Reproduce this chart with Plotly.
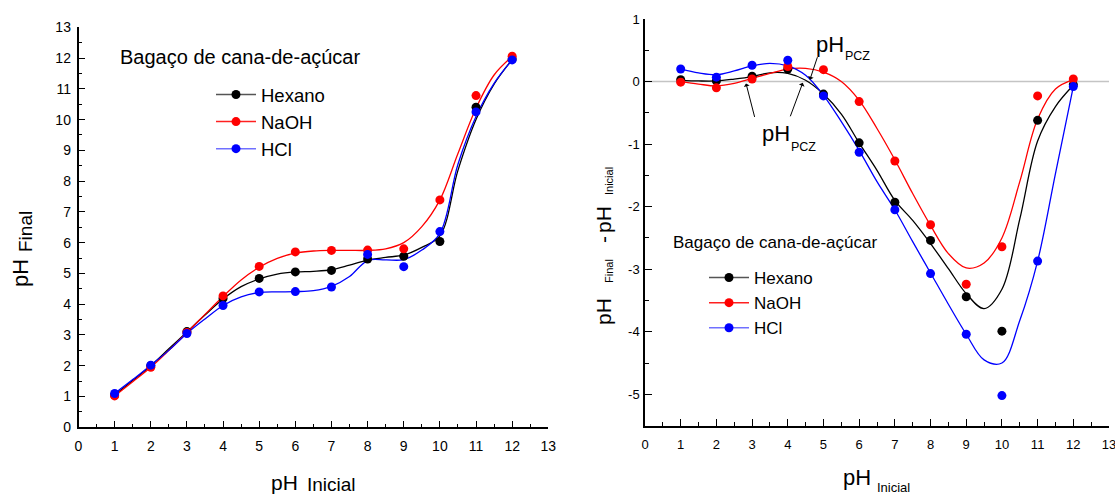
import plotly.graph_objects as go

# ---------------- data ----------------
ph_inicial = [1, 2, 3, 4, 5, 6, 7, 8, 9, 10, 11, 12]

# Left chart: pH final
final_hexano = [1.05, 2.0, 3.11, 4.19, 4.84, 5.05, 5.10, 5.47, 5.56, 6.04, 10.40, 11.97]
final_naoh = [1.02, 1.95, 3.08, 4.27, 5.23, 5.70, 5.75, 5.76, 5.80, 7.39, 10.78, 12.06]
final_hcl = [1.10, 2.02, 3.05, 3.96, 4.40, 4.41, 4.56, 5.62, 5.22, 6.36, 10.25, 11.94]

# fitted curves
curve_x = [1, 1.5, 2, 2.5, 3, 3.5, 4, 4.5, 5, 5.5, 6, 6.5, 7, 7.5, 8, 8.5, 9, 9.5, 10, 10.5, 11, 11.5, 12]
fit_final_hexano = [1.05, 1.52, 2.0, 2.55, 3.1, 3.65, 4.17, 4.57, 4.82, 4.98, 5.05, 5.07, 5.12, 5.27, 5.43,
                    5.52, 5.6, 5.85, 6.22, 8.35, 10.0, 11.15, 11.95]
fit_final_naoh = [1.02, 1.48, 1.95, 2.5, 3.08, 3.67, 4.25, 4.79, 5.2, 5.49, 5.66, 5.73, 5.75, 5.75, 5.75,
                  5.8, 6.0, 6.52, 7.39, 8.9, 10.37, 11.45, 12.05]
fit_final_hcl = [1.1, 1.55, 2.02, 2.5, 3.05, 3.52, 3.96, 4.24, 4.38, 4.4, 4.41, 4.44, 4.58, 4.9, 5.42,
                 5.44, 5.45, 5.76, 6.3, 8.55, 10.1, 11.18, 11.94]

# Right chart: pH final - pH inicial
delta_hexano = [0.03, 0.01, 0.085, 0.20, -0.20, -0.98, -1.93, -2.54, -3.44, -3.99, -0.62, -0.05]
delta_naoh = [-0.01, -0.10, 0.04, 0.24, 0.19, -0.32, -1.27, -2.29, -3.24, -2.64, -0.23, 0.04]
delta_hcl = [0.20, 0.07, 0.26, 0.34, -0.23, -1.13, -2.05, -3.07, -4.04, -5.02, -2.87, -0.08]

fit_delta_hexano = [0.02, 0.01, 0.01, 0.04, 0.08, 0.14, 0.13, 0.02, -0.2, -0.52, -0.98, -1.42, -1.9, -2.22,
                    -2.59, -2.99, -3.39, -3.63, -3.32, -2.2, -0.95, -0.4, -0.06]
fit_delta_naoh = [0.0, -0.04, -0.07, -0.03, 0.05, 0.13, 0.2, 0.21, 0.15, 0.0, -0.3, -0.75, -1.25, -1.79,
                  -2.3, -2.75, -2.98, -2.9, -2.5, -1.6, -0.6, -0.12, 0.03]
fit_delta_hcl = [0.2, 0.14, 0.11, 0.17, 0.25, 0.29, 0.25, 0.1, -0.22, -0.64, -1.1, -1.6, -2.05, -2.56,
                 -3.06, -3.56, -4.04, -4.45, -4.5, -3.82, -2.87, -1.47, -0.08]

series_names = ["Hexano", "NaOH", "HCl"]
x_ticks = list(range(0, 14))
x_tick_text = [str(v) for v in x_ticks]
left_y_ticks = list(range(0, 14))
left_y_text = [str(v) for v in left_y_ticks]
right_y_ticks = [-5, -4, -3, -2, -1, 0, 1]
right_y_text = ["-5", "-4", "-3", "-2", "-1", "0", "1"]

# ---------------- styling ----------------
W, H = 1115, 495
FONT = "Liberation Sans, Arial, sans-serif"
marker_colors = ["#000000", "#ff0000", "#0000ff"]
line_colors = ["#000000", "#ff0000", "#0000ff"]
legend_line_colors = ["#555555", "#ff2020", "#7070ff"]

# plot-area boxes in pixels (left, right, top, bottom)
L_BOX = (78.5, 548.3, 27.3, 427.3)
R_BOX = (645.0, 1109.0, 19.0, 425.6)

fig = go.Figure()

left_pts = [final_hexano, final_naoh, final_hcl]
left_fit = [fit_final_hexano, fit_final_naoh, fit_final_hcl]
right_pts = [delta_hexano, delta_naoh, delta_hcl]
right_fit = [fit_delta_hexano, fit_delta_naoh, fit_delta_hcl]

for i in range(3):
    fig.add_trace(go.Scatter(x=curve_x, y=left_fit[i], mode="lines",
                             line=dict(color=line_colors[i], width=1.3, shape="spline", smoothing=1.0),
                             xaxis="x", yaxis="y", showlegend=False, hoverinfo="skip"))
for i in range(3):
    fig.add_trace(go.Scatter(x=ph_inicial, y=left_pts[i], mode="markers", marker=dict(color=marker_colors[i], size=9),
                             xaxis="x", yaxis="y", showlegend=False, name=series_names[i]))
for i in range(3):
    fig.add_trace(go.Scatter(x=curve_x, y=right_fit[i], mode="lines",
                             line=dict(color=line_colors[i], width=1.3, shape="spline", smoothing=1.0),
                             xaxis="x2", yaxis="y2", showlegend=False, hoverinfo="skip"))
for i in range(3):
    fig.add_trace(go.Scatter(x=ph_inicial, y=right_pts[i], mode="markers", marker=dict(color=marker_colors[i], size=9),
                             xaxis="x2", yaxis="y2", showlegend=False, name=series_names[i]))

# legend entries
for i in range(3):
    fig.add_trace(go.Scatter(x=[None], y=[None], mode="lines+markers", name=series_names[i],
                             line=dict(color=legend_line_colors[i], width=1.5), marker=dict(color=marker_colors[i], size=9),
                             xaxis="x", yaxis="y", legend="legend"))
for i in range(3):
    fig.add_trace(go.Scatter(x=[None], y=[None], mode="lines+markers", name=series_names[i],
                             line=dict(color=legend_line_colors[i], width=1.5), marker=dict(color=marker_colors[i], size=9),
                             xaxis="x2", yaxis="y2", legend="legend2"))


def px_x(p):
    return p / W


def px_y(p):
    return 1 - p / H


base_axis = dict(showline=True, linecolor="black", linewidth=1.5, mirror=False, showgrid=False, zeroline=False,
                 automargin=False, ticklabeloverflow="allow", tickmode="array",
                 ticks="inside", ticklen=7, tickwidth=1.4, tickcolor="black",
                 minor=dict(ticks="inside", ticklen=4, tickwidth=1.2, tickcolor="black",
                            tickmode="linear", tick0=0, dtick=0.5, showgrid=False),
                 layer="above traces")

fig.update_layout(
    template="none",
    width=W, height=H, margin=dict(l=0, r=0, t=0, b=0, pad=0), autosize=False,
    paper_bgcolor="white", plot_bgcolor="white",
    font=dict(family=FONT, color="black"),
    xaxis=dict(base_axis, domain=[px_x(L_BOX[0]), px_x(L_BOX[1])], range=[0, 13], tickvals=x_ticks,
               ticktext=x_tick_text, anchor="y", ticklabelstandoff=5,
               tickfont=dict(family=FONT, size=14, color="black")),
    yaxis=dict(base_axis, domain=[px_y(L_BOX[3]), px_y(L_BOX[2])], range=[0, 13], tickvals=left_y_ticks,
               ticktext=left_y_text, anchor="x", ticklabelstandoff=3,
               tickfont=dict(family=FONT, size=14, color="black")),
    xaxis2=dict(base_axis, domain=[px_x(R_BOX[0]), px_x(R_BOX[1])], range=[0, 13], tickvals=x_ticks,
                ticktext=x_tick_text, anchor="y2", ticklabelstandoff=6,
                tickfont=dict(family=FONT, size=13, color="black")),
    yaxis2=dict(base_axis, domain=[px_y(R_BOX[3]), px_y(R_BOX[2])], range=[-5.5, 1], tickvals=right_y_ticks,
                ticktext=right_y_text, anchor="x2", ticklabelstandoff=1,
                tickfont=dict(family=FONT, size=13, color="black")),
    legend=dict(x=px_x(211), y=px_y(76), xanchor="left", yanchor="top", bgcolor="rgba(0,0,0,0)",
                font=dict(family=FONT, size=18.5, color="black"), itemwidth=40, tracegroupgap=0),
    legend2=dict(x=px_x(704), y=px_y(260), xanchor="left", yanchor="top", bgcolor="rgba(0,0,0,0)",
                 font=dict(family=FONT, size=17, color="black"), itemwidth=40, tracegroupgap=0),
    showlegend=True,
    hovermode="closest",
)

# zero line on right chart
fig.add_shape(type="line", xref="x2 domain", yref="y2", x0=0, x1=1, y0=0, y1=0,
              line=dict(color="#c4c4c4", width=1.5), layer="below")

ann = []


def txt(text, x, y, size, angle=0, xanchor="center", yanchor="middle"):
    ann.append(dict(text=text, x=px_x(x), y=px_y(y), xref="paper", yref="paper", showarrow=False,
                    textangle=angle, xanchor=xanchor, yanchor=yanchor,
                    font=dict(family=FONT, size=size, color="black")))


# chart labels
txt("Bagaço de cana-de-açúcar", 118, 57, 20, xanchor="left")
txt("Bagaço de cana-de-açúcar", 671, 242, 17, xanchor="left")

# left axis titles
txt("pH", 284, 482, 21)
txt("Inicial", 331, 484, 19)
txt("pH", 20, 273, 22, angle=-90)
txt("Final", 25, 232, 19, angle=-90)

# right axis titles
txt("pH", 857, 477, 22)
txt("Inicial", 893, 487, 13)
txt("pH", 603, 312, 21, angle=-90)
txt("Final", 609, 271, 11, angle=-90)
txt("-", 603, 240, 21, angle=-90)
txt("pH", 603, 220, 21, angle=-90)
txt("Inicial", 609, 181, 11, angle=-90)

# pH_PCZ labels
txt("pH", 814, 44, 22, xanchor="left")
txt("PCZ", 843, 56, 12.5, xanchor="left")
txt("pH", 760, 134, 22, xanchor="left")
txt("PCZ", 789, 147, 12.5, xanchor="left")

# arrows
arrows = [(4.62, 0.03, 8, -24), (2.83, -0.03, 9, 35), (4.42, -0.02, -13, 35)]
for ax_x, ax_y, dx, dy in arrows:
    ann.append(dict(x=ax_x, y=ax_y, xref="x2", yref="y2", text="", showarrow=True, ax=dx, ay=dy,
                    axref="pixel", ayref="pixel", arrowhead=1, arrowsize=1, arrowwidth=1, arrowcolor="black",
                    standoff=0))

fig.update_layout(annotations=ann)

fig.write_html("out.html")
